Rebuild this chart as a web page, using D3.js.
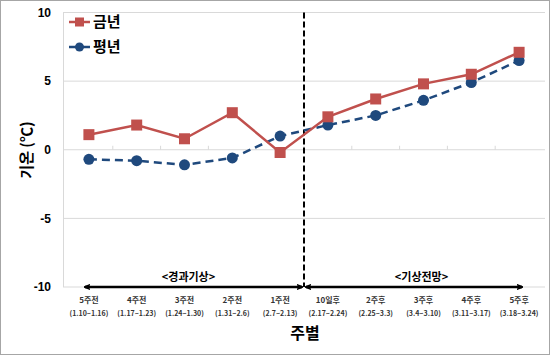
<!DOCTYPE html>
<html><head><meta charset="utf-8">
<script src="https://cdn.jsdelivr.net/npm/d3@7"></script>
<style>body{margin:0;background:#fff}svg{display:block}text{font-family:"Noto Sans CJK KR","Noto Sans",sans-serif}</style>
</head><body><svg id="c" width="550" height="355"></svg>
<script>
const categories = ["5주전","4주전","3주전","2주전","1주전","10일후","2주후","3주후","4주후","5주후"];
const periods = ["(1.10~1.16)","(1.17~1.23)","(1.24~1.30)","(1.31~2.6)","(2.7~2.13)","(2.17~2.24)","(2.25~3.3)","(3.4~3.10)","(3.11~3.17)","(3.18~3.24)"];
const thisYear = [1.1, 1.8, 0.8, 2.7, -0.2, 2.4, 3.7, 4.8, 5.5, 7.1];
const normalYear = [-0.7, -0.8, -1.1, -0.6, 1.0, 1.8, 2.5, 3.6, 4.9, 6.5];
const yTicks = [10, 5, 0, -5, -10];
const seriesNames = ["금년", "평년"];
const sectionLabels = ["<경과기상>", "<기상전망>"];

const svg = d3.select("#c");
svg.append("rect").attr("x",0.5).attr("y",0.5).attr("width",549).attr("height",354).attr("fill","#fff").attr("stroke","#a6a6a6");

const x = d3.scaleBand().domain(categories).range([65, 543]);
const y = d3.scaleLinear().domain([-10, 10]).range([287, 12.5]);
const cx = d => x(d) + x.bandwidth()/2;

svg.append("g").selectAll("line").data(yTicks).join("line")
  .attr("x1", 63).attr("x2", 545).attr("y1", d=>y(d)).attr("y2", d=>y(d))
  .attr("stroke", "#d9d9d9").attr("stroke-width", 1);
svg.append("line").attr("x1",63.5).attr("x2",63.5).attr("y1",y(10)).attr("y2",y(-10)).attr("stroke","#d9d9d9");
svg.append("g").selectAll("line").data(categories.slice(1)).join("line")
  .attr("x1", d=>x(d)).attr("x2", d=>x(d)).attr("y1", y(0)-4).attr("y2", y(0))
  .attr("stroke","#d9d9d9");
svg.append("g").selectAll("text").data(yTicks).join("text")
  .attr("x", 51).attr("y", d=>y(d)).attr("dy","0.35em").attr("text-anchor","end")
  .attr("font-size",12).attr("font-weight","bold").attr("fill","#000")
  .style("font-family","'Liberation Sans',Arial,sans-serif").text(d=>d);
svg.append("text").attr("transform","translate(27,150) rotate(-90)").attr("text-anchor","middle")
  .attr("dy","0.35em").attr("font-size",15).attr("font-weight","bold").text("기온 (℃)");

const sepX = x(categories[5]);
svg.append("line").attr("x1",sepX).attr("x2",sepX).attr("y1",y(10)).attr("y2",y(-10))
  .attr("stroke","#000").attr("stroke-width",2).attr("stroke-dasharray","6,3");

const defs = svg.append("defs");
defs.append("marker").attr("id","ah").attr("viewBox","0 0 10 10").attr("refX",9).attr("refY",5)
  .attr("markerWidth",6).attr("markerHeight",6).attr("orient","auto-start-reverse").attr("markerUnits","userSpaceOnUse")
  .append("path").attr("d","M0,1 L10,5 L0,9").attr("fill","none").attr("stroke","#000").attr("stroke-width",2.5);
const yA = y(-10);
svg.append("line").attr("x1", x(categories[0])+20).attr("x2", sepX-2).attr("y1",yA).attr("y2",yA)
  .attr("stroke","#000").attr("stroke-width",2.5).attr("marker-start","url(#ah)").attr("marker-end","url(#ah)");
svg.append("line").attr("x1", sepX+2).attr("x2", cx(categories[9])+3).attr("y1",yA).attr("y2",yA)
  .attr("stroke","#000").attr("stroke-width",2.5).attr("marker-start","url(#ah)").attr("marker-end","url(#ah)");
svg.append("text").attr("x",(x(categories[0])+sepX)/2+4).attr("y",yA-6).attr("text-anchor","middle")
  .attr("font-size",11).attr("font-weight","bold").text(sectionLabels[0]);
svg.append("text").attr("x",(sepX+x(categories[9])+x.bandwidth())/2-2).attr("y",yA-6).attr("text-anchor","middle")
  .attr("font-size",11).attr("font-weight","bold").text(sectionLabels[1]);

const cl = svg.append("g").selectAll("g").data(categories).join("g").attr("transform", d=>`translate(${cx(d)},0)`);
cl.append("text").attr("y",303).attr("text-anchor","middle").attr("font-size",8).attr("font-weight","bold").attr("fill","#333").text(d=>d);
cl.append("text").attr("y",316).attr("text-anchor","middle").attr("font-size",7).attr("font-weight","bold").attr("fill","#333").text((d,i)=>periods[i]);
svg.append("text").attr("x",305).attr("y",339).attr("text-anchor","middle").attr("font-size",16).attr("font-weight","bold").text("주별");

const red = "#C0504D", blue = "#1F497D";
const line = d3.line().x((d,i)=>cx(categories[i])).y(d=>y(d));
svg.append("path").datum(normalYear).attr("d",line).attr("fill","none").attr("stroke",blue).attr("stroke-width",2.5).attr("stroke-dasharray","8,5");
svg.append("path").datum(thisYear).attr("d",line).attr("fill","none").attr("stroke",red).attr("stroke-width",2.5);
svg.append("g").selectAll("circle").data(normalYear).join("circle")
  .attr("cx",(d,i)=>cx(categories[i])).attr("cy",d=>y(d)).attr("r",5.5).attr("fill",blue);
svg.append("g").selectAll("rect").data(thisYear).join("rect")
  .attr("x",(d,i)=>cx(categories[i])-5.5).attr("y",d=>y(d)-5.5).attr("width",11).attr("height",11).attr("fill",red);

const lg = svg.append("g");
[[red,"rect"],[blue,"circle"]].forEach(([c,s],i)=>{
  const ly = 22 + i*25;
  lg.append("line").attr("x1",69).attr("x2",90).attr("y1",ly).attr("y2",ly).attr("stroke",c).attr("stroke-width",2.5);
  if (s==="rect") lg.append("rect").attr("x",75).attr("y",ly-4.5).attr("width",9).attr("height",9).attr("fill",c);
  else lg.append("circle").attr("cx",79.5).attr("cy",ly).attr("r",4.5).attr("fill",c);
  lg.append("text").attr("x",93).attr("y",ly).attr("dy","0.35em").attr("font-size",15).attr("font-weight","bold").text(seriesNames[i]);
});
</script></body></html>
